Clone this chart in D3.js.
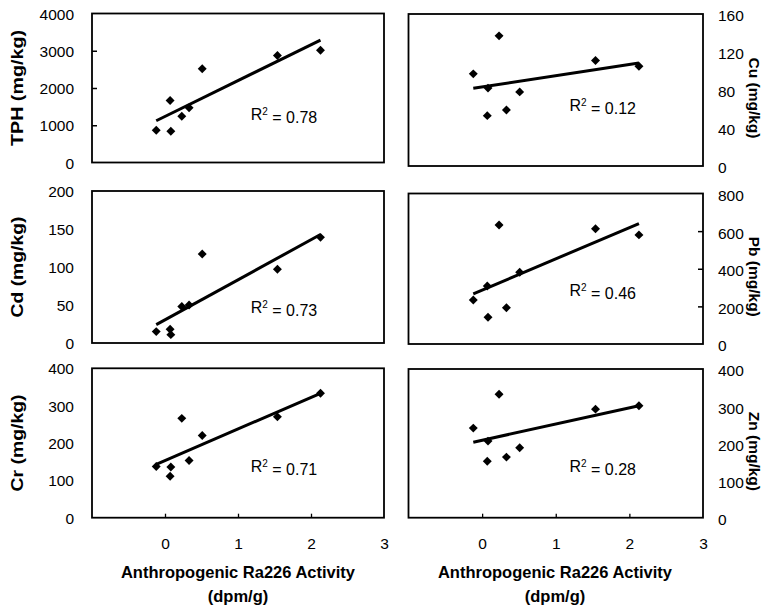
<!DOCTYPE html>
<html>
<head>
<meta charset="utf-8">
<script src="https://cdn.jsdelivr.net/npm/d3@7"></script>
<style>
  html, body { margin: 0; padding: 0; background: #fff; }
  svg { display: block; }
  text { font-family: "Liberation Sans", Arial, sans-serif; fill: #000; }
</style>
</head>
<body>
<svg id="chart" width="768" height="610"></svg>
<script>
// ---------- data ----------
const activity = [-0.12, 0.07, 0.08, 0.23, 0.33, 0.51, 1.54, 2.13]; // dpm/g
const tph = [867, 1664, 840, 1243, 1468, 2515, 2872, 3015];
const cu  = [97, 53, 82, 137, 59, 78, 111, 105];
const cd  = [15, 18, 11, 48, 50, 117, 97, 139];
const pb  = [234, 308, 142, 633, 193, 381, 613, 580];
const cr  = [137, 111, 136, 266, 153, 220, 270, 333];
const zn  = [241, 152, 206, 332, 163, 188, 292, 301];

const xTicks = [0, 1, 2, 3];
const tphTicks = [0, 1000, 2000, 3000, 4000];
const cuTicks  = [0, 40, 80, 120, 160];
const cdTicks  = [0, 50, 100, 150, 200];
const pbTicks  = [0, 200, 400, 600, 800];
const crTicks  = [0, 100, 200, 300, 400];
const znTicks  = [0, 100, 200, 300, 400];

const panelNames = ["TPH", "Cu", "Cd", "Pb", "Cr", "Zn"];
const r2Labels = ["0.78", "0.12", "0.73", "0.46", "0.71", "0.28"];
const xTitle = ["Anthropogenic Ra226 Activity", "(dpm/g)"];

// ---------- layout ----------
const svg = d3.select("#chart");
const cols = [{x0: 92, x1: 384}, {x0: 408.5, x1: 703}];
const rowsL = [[13.5, 162.5], [191, 343], [368.3, 517.7]];
const rowsR = [[14, 166], [193.5, 344], [369, 517.7]];
const r2Pos = [[158.7, 106.5], [161, 97], [158.7, 122.3], [161, 102.5], [158.7, 103.4], [161, 102.7]];
const leftTitleLen = [116, 101, 97];

const panels = [
  {vals: tph, ticks: tphTicks, col: 0, row: 0, inner: true},
  {vals: cu,  ticks: cuTicks,  col: 1, row: 0, inner: false},
  {vals: cd,  ticks: cdTicks,  col: 0, row: 1, inner: false},
  {vals: pb,  ticks: pbTicks,  col: 1, row: 1, inner: true},
  {vals: cr,  ticks: crTicks,  col: 0, row: 2, inner: false},
  {vals: zn,  ticks: znTicks,  col: 1, row: 2, inner: false}
];

function fit(xs, ys) {
  const mx = d3.mean(xs), my = d3.mean(ys);
  let sxy = 0, sxx = 0;
  xs.forEach((x, i) => { sxy += (x - mx) * (ys[i] - my); sxx += (x - mx) * (x - mx); });
  const b = sxy / sxx;
  return {b, a: my - b * mx};
}

const diamond = d3.symbol(d3.symbolSquare, 40);
const fmt = d3.format("d");

panels.forEach((p, i) => {
  const c = cols[p.col];
  const r = p.col === 0 ? rowsL[p.row] : rowsR[p.row];
  const x = d3.scaleLinear().domain([-1, 3]).range([c.x0, c.x1]);
  const y = d3.scaleLinear().domain([0, d3.max(p.ticks)]).range([r[1], r[0]]);
  const g = svg.append("g");

  // y axis labels + ticks
  if (p.col === 0) {
    const ax = d3.axisLeft(y).tickValues(p.ticks).tickSize(0).tickPadding(18).tickFormat(fmt);
    const ga = g.append("g").attr("transform", `translate(${c.x0},0)`).call(ax);
    ga.select(".domain").remove();
    ga.selectAll("text").style("font-size", "15.5px").attr("dy", "0.36em");
    if (p.inner) {
      g.append("g").attr("transform", `translate(${c.x0},0)`)
        .call(d3.axisRight(y).tickValues(p.ticks.slice(1, -1)).tickSize(5).tickFormat(""))
        .call(s => s.select(".domain").remove())
        .selectAll("line").attr("stroke", "#000").attr("stroke-width", 1.5);
    }
  } else {
    const ax = d3.axisRight(y).tickValues(p.ticks).tickSize(0).tickPadding(15).tickFormat(fmt);
    const ga = g.append("g").attr("transform", `translate(${c.x1},0)`).call(ax);
    ga.select(".domain").remove();
    ga.selectAll("text").style("font-size", "15.5px").attr("dy", "0.45em");
    if (p.inner) {
      g.append("g").attr("transform", `translate(${c.x1},0)`)
        .call(d3.axisLeft(y).tickValues(p.ticks.slice(1, -1)).tickSize(5).tickFormat(""))
        .call(s => s.select(".domain").remove())
        .selectAll("line").attr("stroke", "#000").attr("stroke-width", 1.5);
    }
  }

  // x axis ticks & labels for bottom row
  if (p.row === 2) {
    g.append("g").attr("transform", `translate(0,${r[1]})`)
      .call(d3.axisTop(x).tickValues([0, 1, 2]).tickSize(4).tickFormat(""))
      .call(s => s.select(".domain").remove())
      .selectAll("line").attr("stroke", "#000").attr("stroke-width", 1.3);
    const gl = g.append("g").attr("transform", `translate(0,${r[1]})`)
      .call(d3.axisBottom(x).tickValues(xTicks).tickSize(0).tickPadding(20).tickFormat(fmt));
    gl.select(".domain").remove();
    gl.selectAll("text").style("font-size", "15.5px");
  }

  // frame
  g.append("rect")
    .attr("x", c.x0).attr("y", r[0])
    .attr("width", c.x1 - c.x0).attr("height", r[1] - r[0])
    .attr("fill", "none").attr("stroke", "#000").attr("stroke-width", 1.8);

  // trend line
  const f = fit(activity, p.vals);
  const ext = d3.extent(activity);
  g.append("path")
    .datum(ext.map(v => [v, f.a + f.b * v]))
    .attr("d", d3.line().x(d => x(d[0])).y(d => y(d[1])))
    .attr("stroke", "#000").attr("stroke-width", 3).attr("fill", "none");

  // points
  g.selectAll("path.pt").data(activity.map((v, k) => [v, p.vals[k]]))
    .join("path").attr("class", "pt")
    .attr("d", diamond)
    .attr("transform", d => `translate(${x(d[0])},${y(d[1])}) rotate(45)`)
    .attr("fill", "#000");

  // R² label
  const t = g.append("text")
    .attr("x", c.x0 + r2Pos[i][0]).attr("y", r[0] + r2Pos[i][1])
    .style("font-size", "16px");
  t.append("tspan").text("R");
  t.append("tspan").text("2").attr("dy", "-0.5em").style("font-size", "10px");
  t.append("tspan").text(" = " + r2Labels[i]).attr("dy", "0.5em");

  // y title
  const cy = (r[0] + r[1]) / 2;
  if (p.col === 0) {
    g.append("text")
      .attr("transform", `translate(23,${cy}) rotate(-90)`)
      .attr("text-anchor", "middle")
      .attr("textLength", leftTitleLen[p.row]).attr("lengthAdjust", "spacingAndGlyphs")
      .style("font-size", "16px").style("font-weight", "bold")
      .text(panelNames[i] + " (mg/kg)");
  } else {
    g.append("text")
      .attr("transform", `translate(749,${cy + 8}) rotate(90)`)
      .attr("text-anchor", "middle")
      .style("font-size", "15.5px").style("font-weight", "bold")
      .text(panelNames[i] + " (mg/kg)");
  }
});

// x titles
[[238], [555]].forEach(([cx]) => {
  svg.append("text").attr("x", cx).attr("y", 578).attr("text-anchor", "middle")
    .style("font-size", "16.5px").style("font-weight", "bold").text(xTitle[0]);
  svg.append("text").attr("x", cx).attr("y", 602).attr("text-anchor", "middle")
    .style("font-size", "16.5px").style("font-weight", "bold").text(xTitle[1]);
});
</script>
</body>
</html>
